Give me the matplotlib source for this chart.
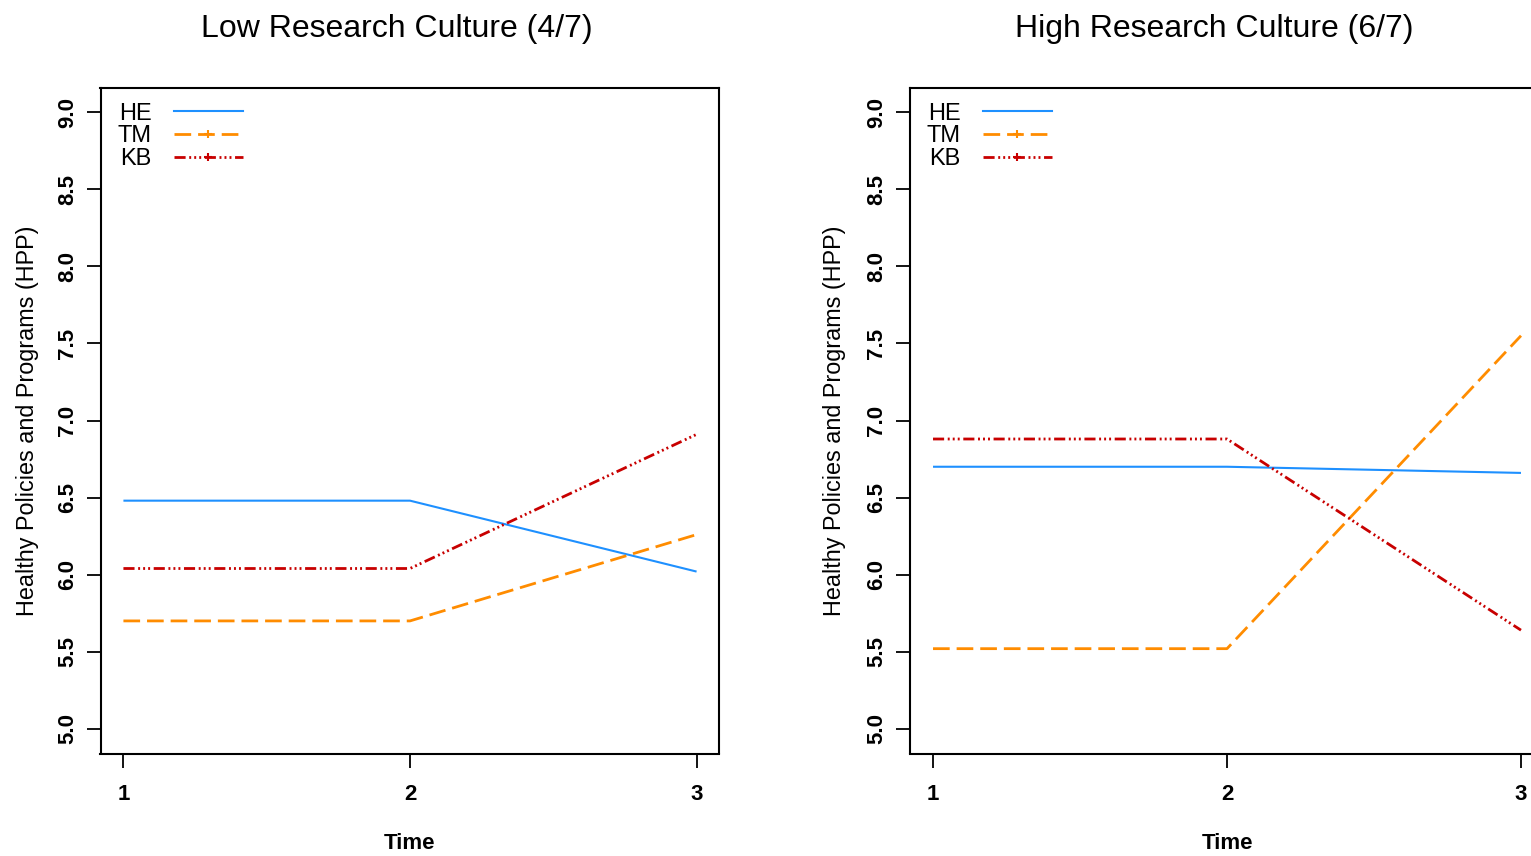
import matplotlib
matplotlib.use("Agg")
import matplotlib.pyplot as plt
from matplotlib.lines import Line2D

plt.rcParams["font.family"] = ["Liberation Sans", "DejaVu Sans"]

# -------------------- Data --------------------
time = [1, 2, 3]
panel_titles = ["Low Research Culture (4/7)", "High Research Culture (6/7)"]
series_names = ["HE", "TM", "KB"]

low_he = [6.48, 6.48, 6.02]
low_tm = [5.70, 5.70, 6.26]
low_kb = [6.04, 6.04, 6.91]

high_he = [6.70, 6.70, 6.66]
high_tm = [5.52, 5.52, 7.55]
high_kb = [6.88, 6.88, 5.64]

y_ticks = [5.0, 5.5, 6.0, 6.5, 7.0, 7.5, 8.0, 8.5, 9.0]

# -------------------- Styles --------------------
COLORS = {"HE": "#1E90FF", "TM": "#FF8C00", "KB": "#C80000"}
WIDTHS = {"HE": 1.5, "TM": 2.0, "KB": 2.0}
DASHES = {"HE": None, "TM": (6.0, 2.5), "KB": (4.0, 1.3, 0.7, 1.1, 0.7, 1.1, 0.7, 1.3)}

W, H = 1531, 856
fig = plt.figure(figsize=(W / 100, H / 100), dpi=100)

# axes rectangles in pixels (left, bottom-from-top, right, top-from-top)
boxes = [(100.5, 753.5, 719.5, 87.5), (909.5, 753.5, 1544.5, 87.5)]
title_x = [0.479, 0.480]

panels = [
    (low_he, low_tm, low_kb),
    (high_he, high_tm, high_kb),
]

for k, (vals, box) in enumerate(zip(panels, boxes)):
    x0, yb, x1, yt = box
    ax = fig.add_axes([x0 / W, 1 - yb / H, (x1 - x0) / W, (yb - yt) / H])
    for name, v in zip(series_names, vals):
        ln, = ax.plot(time, v, color=COLORS[name], lw=WIDTHS[name], solid_capstyle="butt")
        if DASHES[name] is not None:
            ln.set_dashes(DASHES[name])
            ln.set_dash_capstyle("butt")

    ax.set_xlim(0.92, 3.08)
    ax.set_ylim(4.84, 9.16)
    ax.set_xticks(time)
    ax.set_xticklabels([str(t) for t in time], fontweight="bold")
    ax.set_yticks(y_ticks)
    ax.set_yticklabels([f"{t:.1f}" for t in y_ticks], fontweight="bold")

    for sp in ax.spines.values():
        sp.set_linewidth(1.5)
    ax.tick_params(axis="both", direction="out", length=10, width=1.3,
                   labelsize=16)
    ax.tick_params(axis="x", pad=12)
    ax.tick_params(axis="y", pad=6, labelrotation=90)
    for lab in ax.get_yticklabels():
        lab.set_va("center")

    ax.set_xlabel("Time", fontsize=16, fontweight="bold")
    ax.xaxis.set_label_coords(0.5, -0.135)
    ax.xaxis.label.set_va("center")
    ax.set_ylabel("Healthy Policies and Programs (HPP)", fontsize=16.8)
    ax.yaxis.set_label_coords(-0.118, 0.5)
    ax.yaxis.label.set_va("center")

    ax.text(title_x[k], 1 + 58 / (yb - yt), panel_titles[k], transform=ax.transAxes,
            ha="center", va="center", fontsize=23)

    handles = []
    for name in series_names:
        h = Line2D([], [], color=COLORS[name], lw=WIDTHS[name],
                   marker=None if name == "HE" else "+", markersize=6,
                   markeredgewidth=1.5)
        if DASHES[name] is not None:
            h.set_dashes(DASHES[name])
        handles.append(h)
    ax.legend(handles, series_names, loc="upper left",
              bbox_to_anchor=(17 / (x1 - x0), 1 - 15 / (yb - yt)),
              frameon=False, fontsize=17, markerfirst=False, numpoints=1,
              handlelength=2.9, handletextpad=0.95, labelspacing=0.03,
              borderpad=0, borderaxespad=0)

fig.savefig("out.png", dpi=100)
